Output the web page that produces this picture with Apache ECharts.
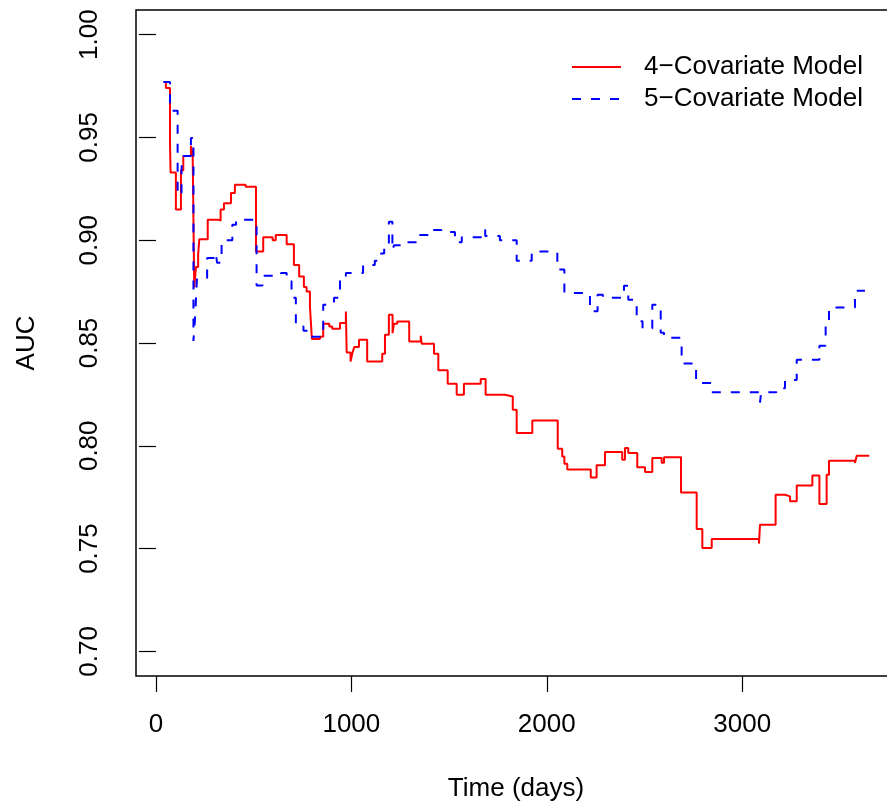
<!DOCTYPE html>
<html>
<head>
<meta charset="utf-8">
<title>AUC over time</title>
<script src="https://cdn.jsdelivr.net/npm/echarts@6/dist/echarts.min.js"></script>
<style>
  html, body { margin: 0; padding: 0; background: #fff; }
  #chart { width: 887px; height: 805px; }
</style>
</head>
<body>
<div id="chart"></div>
<script>
// ---- data (step functions, value holds from each time onward) ----
const days4 = [40, 51, 72, 75, 102, 128, 140, 179, 188, 196, 205, 216, 222, 265, 319, 331, 348, 384, 404, 459,
  512, 549, 597, 613, 669, 706, 733, 757, 771, 788, 798, 839, 856, 887, 902, 942, 972, 976, 996, 1005,
  1015, 1039, 1081, 1158, 1172, 1192, 1211, 1218, 1235, 1296, 1355, 1360, 1423, 1445, 1493, 1539, 1576, 1662, 1687, 1786,
  1826, 1846, 1926, 2056, 2079, 2090, 2105, 2225, 2255, 2298, 2386, 2400, 2417, 2463, 2503, 2540, 2588, 2600, 2687, 2767,
  2796, 2844, 3086, 3091, 3171, 3219, 3245, 3279, 3359, 3395, 3432, 3444, 3577, 3586, 3650];
const auc4 = [0.977, 0.974, 0.947, 0.933, 0.915, 0.934, 0.941, 0.946, 0.942, 0.877, 0.887, 0.893, 0.9005, 0.910, 0.9095, 0.915, 0.918, 0.923, 0.927, 0.926,
  0.8945, 0.9015, 0.900, 0.9026, 0.898, 0.888, 0.8824, 0.8772, 0.875, 0.868, 0.852, 0.853, 0.8594, 0.858, 0.8569, 0.8597, 0.8653, 0.8454, 0.841, 0.845,
  0.848, 0.8516, 0.841, 0.8448, 0.854, 0.8637, 0.8548, 0.8594, 0.8605, 0.8507, 0.8535, 0.8496, 0.8448, 0.8367, 0.8302, 0.8248, 0.8302, 0.8325, 0.8248, 0.8240,
  0.8175, 0.8062, 0.8123, 0.7986, 0.7948, 0.7913, 0.7884, 0.7846, 0.7905, 0.797, 0.7932, 0.7989, 0.7965, 0.7895, 0.7873, 0.7941, 0.7918, 0.7944, 0.7773, 0.7595,
  0.7503, 0.7547, 0.7524, 0.7616, 0.7762, 0.7754, 0.773, 0.7807, 0.7856, 0.7717, 0.7859, 0.7927, 0.7916, 0.7952, 0.7952];

const days5 = [38, 72, 111, 131, 134, 179, 192, 200, 210, 262, 306, 313, 336, 391, 410, 515, 545, 640, 669, 694,
  716, 755, 790, 856, 911, 942, 972, 1060, 1120, 1152, 1168, 1192, 1210, 1218, 1262, 1351, 1410, 1460, 1530, 1565,
  1668, 1685, 1760, 1846, 1923, 2054, 2090, 2221, 2260, 2287, 2395, 2417, 2460, 2490, 2540, 2583, 2600, 2690, 2764, 2844,
  3091, 3097, 3175, 3219, 3279, 3395, 3427, 3444, 3577, 3628];
const auc5 = [0.977, 0.963, 0.922, 0.934, 0.941, 0.9497, 0.851, 0.862, 0.8816, 0.8914, 0.8937, 0.889, 0.900, 0.9075, 0.910, 0.878, 0.8827, 0.884, 0.880, 0.872,
  0.858, 0.856, 0.853, 0.8686, 0.872, 0.881, 0.884, 0.888, 0.890, 0.8935, 0.897, 0.909, 0.895, 0.8975, 0.899, 0.9025, 0.905, 0.904, 0.899, 0.9015,
  0.905, 0.902, 0.900, 0.890, 0.8945, 0.8857, 0.8743, 0.8654, 0.8735, 0.872, 0.8778, 0.871, 0.8606, 0.857, 0.8686, 0.855, 0.8525, 0.840, 0.8305, 0.826,
  0.821, 0.826, 0.828, 0.832, 0.8418, 0.8487, 0.858, 0.8673, 0.8754, 0.8754];

const xTicks = [0, 1000, 2000, 3000];
const yTicks = [0.70, 0.75, 0.80, 0.85, 0.90, 0.95, 1.00];
const seriesNames = ['4\u2212Covariate Model', '5\u2212Covariate Model'];

const FONT = '"Liberation Sans", Arial, Helvetica, sans-serif';

const pairs = (xs, ys) => xs.map((x, i) => [x, ys[i]]);

const chart = echarts.init(document.getElementById('chart'), null, { renderer: 'canvas' });

chart.setOption({
  backgroundColor: '#fff',
  animation: false,
  textStyle: { fontFamily: FONT, color: '#000' },
  grid: {
    left: 136, top: 10, width: 760, height: 666,
    outerBoundsMode: 'none',
    containLabel: false,
    show: true, borderColor: '#000', borderWidth: 1.5, backgroundColor: 'transparent'
  },
  legend: {
    orient: 'vertical',
    left: 571, top: 54,
    padding: 0,
    itemWidth: 49, itemHeight: 14, itemGap: 6,
    itemStyle: { opacity: 0 },
    textStyle: { fontSize: 26, fontFamily: FONT, color: '#000', padding: [0, 0, 0, 18] },
    data: seriesNames
  },
  xAxis: {
    type: 'value',
    min: -102, max: 3787,
    name: 'Time (days)',
    nameLocation: 'middle',
    nameGap: 100,
    nameTextStyle: { fontSize: 26, fontFamily: FONT, color: '#000' },
    axisLine: { show: false },
    axisTick: { show: true, inside: false, length: 16, lineStyle: { color: '#000', width: 1.2 }, customValues: xTicks },
    axisLabel: {
      fontSize: 26, fontFamily: FONT, color: '#000', margin: 36, customValues: xTicks,
      formatter: v => String(v)
    },
    splitLine: { show: false }
  },
  yAxis: {
    type: 'value',
    min: 0.688, max: 1.012,
    name: 'AUC',
    nameLocation: 'middle',
    nameGap: 96,
    nameRotate: 90,
    nameTextStyle: { fontSize: 26, fontFamily: FONT, color: '#000' },
    axisLine: { show: false },
    axisTick: { show: true, inside: false, length: 17, lineStyle: { color: '#000', width: 1.2 }, customValues: yTicks },
    axisLabel: {
      fontSize: 26, fontFamily: FONT, color: '#000', margin: 33, rotate: 90,
      customValues: yTicks,
      formatter: v => v.toFixed(2)
    },
    splitLine: { show: false }
  },
  series: [
    {
      name: seriesNames[0],
      type: 'line',
      step: 'end',
      symbol: 'none',
      lineStyle: { color: '#FF0000', width: 2 },
      itemStyle: { color: '#FF0000' },
      data: pairs(days4, auc4)
    },
    {
      name: seriesNames[1],
      type: 'line',
      step: 'end',
      symbol: 'none',
      lineStyle: { color: '#0000FF', width: 2, type: [9, 10] },
      itemStyle: { color: '#0000FF' },
      data: pairs(days5, auc5)
    }
  ]
});
</script>
</body>
</html>
